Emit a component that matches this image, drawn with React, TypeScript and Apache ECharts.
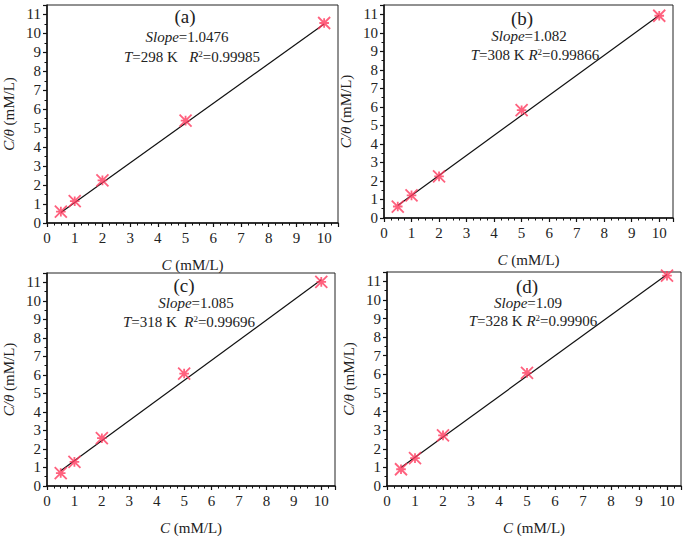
import React, { useEffect, useRef } from "react";
import * as echarts from "echarts";

// concentrations C (mM/L)
const concentrations = [0.5, 1, 2, 5, 10];
// C/θ values for each temperature panel
const valuesA = [0.6, 1.15, 2.25, 5.4, 10.55];
const valuesB = [0.62, 1.22, 2.25, 5.82, 10.92];
const valuesC = [0.7, 1.3, 2.58, 6.07, 11.02];
const valuesD = [0.9, 1.5, 2.72, 6.08, 11.3];
// fitted line y-values at C = 0.5 and C = 10
const fitX = [0.5, 10];
const fitA = [0.55, 10.5];
const fitB = [0.67, 10.95];
const fitC = [0.82, 11.13];
const fitD = [1.0, 11.36];
// annotations
const panelLabels = ["(a)", "(b)", "(c)", "(d)"];
const slopes = ["1.0476", "1.082", "1.085", "1.09"];
const temps = ["298", "308", "318", "328"];
const r2s = ["0.99985", "0.99866", "0.99696", "0.99906"];

const FONT = "'Liberation Serif', 'Times New Roman', serif";
const RED = "#ff3a5e";

const grids = [
  { left: 42, top: 5, width: 296, height: 218 },
  { left: 384, top: 5, width: 289, height: 213 },
  { left: 42, top: 273, width: 293, height: 218 },
  { left: 387, top: 272, width: 294, height: 217 },
];

const textPos = [
  { cx: 185, ly: 16, sx: 187, sy: 37, tx: 192, ty: 57 },
  { cx: 522, ly: 18, sx: 529, sy: 36, tx: 535, ty: 55 },
  { cx: 184, ly: 285, sx: 196, sy: 303, tx: 189, ty: 322 },
  { cx: 527, ly: 286, sx: 528, sy: 303, tx: 533, ty: 321 },
];
const gaps = ["   ", " ", "  ", " "];

const starPath = "path://M0,0L10,10M10,0L0,10M5,1L5,9M1,5L9,5";

export default function App() {
  const ref = useRef<HTMLDivElement>(null);
  useEffect(() => {
    document.body.style.margin = "0";
    const chart = echarts.init(ref.current!, null, { renderer: "svg" });
    const allValues = [valuesA, valuesB, valuesC, valuesD];
    const allFits = [fitA, fitB, fitC, fitD];
    const intFmt = (v: number) => (Number.isInteger(v) ? String(v) : "");
    const rich = { i: { fontStyle: "italic", fontFamily: FONT, fontSize: 15, color: "#222" } };

    const xAxis = grids.map((_, i) => ({
      type: "value",
      gridIndex: i,
      min: 0,
      max: 10.5,
      interval: 1,
      name: "{i|C} (mM/L)",
      nameLocation: "middle",
      nameGap: 34,
      nameTextStyle: { fontFamily: FONT, fontSize: 15, color: "#222", rich },
      axisLine: { show: true, onZero: false, lineStyle: { color: "#111", width: 1.5 } },
      axisTick: { show: true, inside: false, length: 4, lineStyle: { color: "#111", width: 1.2 } },
      minorTick: { show: true, splitNumber: 4, length: 2.5, lineStyle: { color: "#111", width: 1 } },
      splitLine: { show: false },
      axisLabel: { formatter: intFmt, fontFamily: FONT, fontSize: 15, color: "#222", margin: 7 },
    }));
    const yAxis = grids.map((_, i) => ({
      type: "value",
      gridIndex: i,
      min: 0,
      max: 11.5,
      interval: 1,
      name: "{i|C/θ} (mM/L)",
      nameLocation: "middle",
      nameGap: 31,
      nameTextStyle: { fontFamily: FONT, fontSize: 15, color: "#222", rich },
      axisLine: { show: true, onZero: false, lineStyle: { color: "#111", width: 1.5 } },
      axisTick: { show: true, inside: false, length: 4, lineStyle: { color: "#111", width: 1.2 } },
      minorTick: { show: true, splitNumber: 2, length: 2.5, lineStyle: { color: "#111", width: 1 } },
      splitLine: { show: false },
      axisLabel: { formatter: intFmt, fontFamily: FONT, fontSize: 15, color: "#222", margin: 6 },
    }));

    const series: any[] = [];
    allValues.forEach((vals, i) => {
      series.push({
        type: "line",
        xAxisIndex: i,
        yAxisIndex: i,
        data: fitX.map((x, k) => [x, allFits[i][k]]),
        showSymbol: false,
        symbol: "none",
        lineStyle: { color: "#111", width: 1.2 },
        z: 2,
      });
      series.push({
        type: "scatter",
        xAxisIndex: i,
        yAxisIndex: i,
        data: concentrations.map((x, k) => [x, vals[k]]),
        symbol: starPath,
        symbolSize: 12,
        itemStyle: { color: "none", borderColor: RED, borderWidth: 1.8 },
        z: 3,
      });
    });

    const graphic: any[] = [];
    textPos.forEach((p, i) => {
      graphic.push({
        type: "text",
        x: p.cx,
        y: p.ly,
        style: {
          text: panelLabels[i],
          font: `19px ${FONT}`,
          fill: "#222",
          align: "center",
          verticalAlign: "middle",
        },
      });
      graphic.push({
        type: "text",
        x: p.sx,
        y: p.sy,
        style: {
          text: `{i|Slope}=${slopes[i]}`,
          font: `15px ${FONT}`,
          fill: "#222",
          align: "center",
          verticalAlign: "middle",
          rich: { i: { font: `italic 15px ${FONT}`, fill: "#222" } },
        },
      });
      graphic.push({
        type: "text",
        x: p.tx,
        y: p.ty,
        style: {
          text: `{i|T}=${temps[i]} K${gaps[i]}{i|R}{s|2}=${r2s[i]}`,
          font: `15px ${FONT}`,
          fill: "#222",
          align: "center",
          verticalAlign: "middle",
          rich: {
            i: { font: `italic 15px ${FONT}`, fill: "#222" },
            s: { font: `9px ${FONT}`, fill: "#222", padding: [0, 0, 7, 0] },
          },
        },
      });
    });

    chart.setOption({
      animation: false,
      backgroundColor: "#fff",
      grid: grids.map((g) => ({ ...g, show: true, borderColor: "#222", borderWidth: 1, backgroundColor: "transparent" })),
      xAxis,
      yAxis,
      series,
      graphic,
    });
    return () => chart.dispose();
  }, []);
  return <div ref={ref} style={{ width: 685, height: 536 }} />;
}
